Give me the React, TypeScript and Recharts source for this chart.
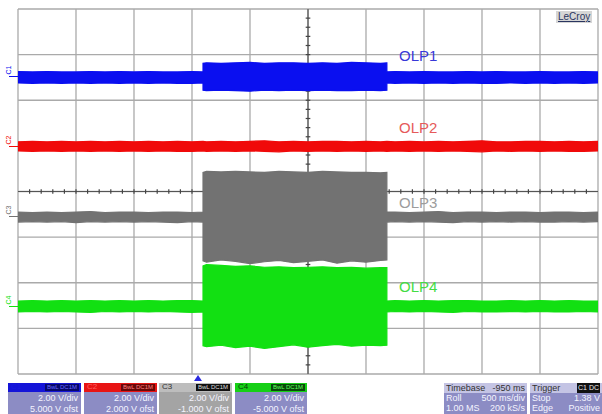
import * as React from 'react';
import { ComposedChart, Area, XAxis, YAxis, CartesianGrid, ReferenceLine } from 'recharts';

// time in divisions (500 ms/div), voltages in screen divisions
const T = [
  0, 0.25, 0.5, 0.75, 1, 1.25, 1.5, 1.75, 2, 2.25, 2.5, 2.75, 3, 3.19,
  3.19, 3.25, 3.5, 3.75, 4, 4.25, 4.5, 4.75, 5, 5.25, 5.5, 5.75, 6, 6.25, 6.36,
  6.36, 6.5, 6.75, 7, 7.25, 7.5, 7.75, 8, 8.25, 8.5, 8.75, 9, 9.25, 9.5, 9.75, 10,
];

const C1_HI = [
  2.63, 2.62, 2.63, 2.62, 2.62, 2.63, 2.62, 2.63, 2.62, 2.63, 2.62, 2.62, 2.63, 2.62,
  2.81, 2.82, 2.81, 2.82, 2.83, 2.81, 2.82, 2.82, 2.81, 2.82, 2.81, 2.83, 2.82, 2.81, 2.82,
  2.62, 2.63, 2.62, 2.63, 2.62, 2.62, 2.63, 2.62, 2.63, 2.62, 2.62, 2.63, 2.62, 2.62, 2.63, 2.62,
];
const C1_LO = [
  2.38, 2.37, 2.38, 2.37, 2.38, 2.37, 2.38, 2.37, 2.38, 2.37, 2.38, 2.37, 2.37, 2.38,
  2.22, 2.21, 2.22, 2.21, 2.2, 2.22, 2.21, 2.22, 2.21, 2.22, 2.21, 2.21, 2.22, 2.21, 2.22,
  2.38, 2.37, 2.38, 2.37, 2.38, 2.37, 2.38, 2.37, 2.37, 2.38, 2.37, 2.38, 2.37, 2.38, 2.37, 2.38,
];
const C2_HI = [
  1.09, 1.1, 1.09, 1.1, 1.09, 1.1, 1.09, 1.1, 1.09, 1.1, 1.09, 1.1, 1.09, 1.1,
  1.1, 1.09, 1.1, 1.09, 1.1, 1.11, 1.09, 1.1, 1.09, 1.1, 1.1, 1.09, 1.1, 1.09, 1.1,
  1.1, 1.09, 1.1, 1.09, 1.1, 1.09, 1.1, 1.11, 1.09, 1.09, 1.1, 1.1, 1.09, 1.1, 1.09, 1.1,
];
const C2_LO = [
  0.89, 0.88, 0.89, 0.88, 0.89, 0.88, 0.89, 0.88, 0.89, 0.88, 0.89, 0.88, 0.88, 0.89,
  0.89, 0.88, 0.89, 0.88, 0.89, 0.88, 0.87, 0.89, 0.88, 0.89, 0.88, 0.89, 0.88, 0.89, 0.88,
  0.88, 0.89, 0.88, 0.89, 0.88, 0.89, 0.88, 0.87, 0.89, 0.88, 0.89, 0.88, 0.89, 0.88, 0.88, 0.89,
];
const C3_HI = [
  -0.45, -0.46, -0.45, -0.46, -0.45, -0.44, -0.46, -0.45, -0.45, -0.46, -0.45, -0.45, -0.46, -0.45,
  0.42, 0.44, 0.43, 0.44, 0.43, 0.42, 0.44, 0.43, 0.42, 0.44, 0.43, 0.42, 0.42, 0.41, 0.42,
  -0.45, -0.45, -0.46, -0.45, -0.44, -0.46, -0.45, -0.45, -0.46, -0.45, -0.45, -0.46, -0.45, -0.45, -0.46, -0.45,
];
const C3_LO = [
  -0.67, -0.66, -0.67, -0.66, -0.68, -0.66, -0.67, -0.66, -0.67, -0.66, -0.67, -0.68, -0.66, -0.67,
  -1.52, -1.55, -1.5, -1.53, -1.58, -1.54, -1.51, -1.56, -1.53, -1.5, -1.57, -1.52, -1.55, -1.51, -1.5,
  -0.67, -0.66, -0.67, -0.66, -0.67, -0.68, -0.66, -0.67, -0.66, -0.67, -0.66, -0.67, -0.67, -0.66, -0.67, -0.66,
];
const C4_HI = [
  -2.4, -2.39, -2.4, -2.39, -2.4, -2.39, -2.4, -2.39, -2.4, -2.39, -2.4, -2.39, -2.39, -2.4,
  -1.63, -1.6, -1.62, -1.64, -1.63, -1.66, -1.65, -1.67, -1.66, -1.65, -1.67, -1.66, -1.68, -1.67, -1.67,
  -2.4, -2.39, -2.4, -2.39, -2.4, -2.39, -2.39, -2.4, -2.4, -2.39, -2.4, -2.39, -2.4, -2.39, -2.4, -2.4,
];
const C4_LO = [
  -2.64, -2.63, -2.64, -2.63, -2.64, -2.65, -2.63, -2.64, -2.63, -2.64, -2.63, -2.64, -2.65, -2.64,
  -3.38, -3.4, -3.37, -3.42, -3.39, -3.44, -3.4, -3.36, -3.41, -3.38, -3.35, -3.39, -3.37, -3.38, -3.37,
  -2.64, -2.63, -2.64, -2.63, -2.64, -2.65, -2.63, -2.64, -2.64, -2.63, -2.64, -2.63, -2.64, -2.64, -2.63, -2.64,
];

const X_TICKS = [0, 1, 2, 3, 4, 5, 6, 7, 8, 9, 10];
const Y_TICKS = [-4, -3, -2, -1, 0, 1, 2, 3, 4];
const X_MINOR = Array.from({ length: 49 }, (_, i) => (i + 1) * 0.2);
const Y_MINOR = Array.from({ length: 39 }, (_, i) => -3.8 + i * 0.2);

const CHANNELS = [
  { key: 'c1', name: 'C1', label: 'OLP1', color: '#0a0ff0', text: '#3838d8', labelTop: 47, markTop: 66 },
  { key: 'c2', name: 'C2', label: 'OLP2', color: '#f00a0a', text: '#e65a5a', labelTop: 119, markTop: 136 },
  { key: 'c3', name: 'C3', label: 'OLP3', color: '#727272', text: '#9c9c9c', labelTop: 194, markTop: 206 },
  { key: 'c4', name: 'C4', label: 'OLP4', color: '#12e012', text: '#44dc44', labelTop: 278, markTop: 296 },
];

const BOXES = [
  { name: 'C1', left: 8, width: 73, head: '#1414d8', tag: '#08086a', tagText: '#6a6aff', nameColor: '#1a1ae0', body: '#8c8cc4', rows: ['2.00 V/div', '5.000 V ofst'] },
  { name: 'C2', left: 84, width: 73, head: '#e81414', tag: '#6a0808', tagText: '#ff8080', nameColor: '#ff6060', body: '#8c8cc4', rows: ['2.00 V/div', '2.000 V ofst'] },
  { name: 'C3', left: 159, width: 73, head: '#bdbdbd', tag: '#111111', tagText: '#dddddd', nameColor: '#333333', body: '#a4a4a4', rows: ['2.00 V/div', '-1.000 V ofst'] },
  { name: 'C4', left: 235, width: 72, head: '#16d016', tag: '#0a4a0a', tagText: '#60ff60', nameColor: '#0a3a0a', body: '#8c8cc4', rows: ['2.00 V/div', '-5.000 V ofst'] },
];

const FONT = '"Liberation Sans", Arial, sans-serif';

export default function App() {
  const rows = T.map((t, i) => ({
    t,
    c1: [C1_LO[i], C1_HI[i]],
    c2: [C2_LO[i], C2_HI[i]],
    c3: [C3_LO[i], C3_HI[i]],
    c4: [C4_LO[i], C4_HI[i]],
  }));

  return (
    <div style={{ position: 'absolute', left: 0, top: 0, width: 602, height: 414, background: '#fff', overflow: 'hidden', fontFamily: FONT }}>
      <ComposedChart width={602} height={414} data={rows} margin={{ top: 9, right: 4, bottom: 40, left: 18 }}>
        <XAxis type="number" dataKey="t" domain={[0, 10]} ticks={X_TICKS} hide />
        <YAxis type="number" domain={[-4, 4]} ticks={Y_TICKS} hide />
        <CartesianGrid stroke="#aaaaaa" strokeWidth={1.3} />
        <ReferenceLine y={0} stroke="#555" strokeWidth={1.2} zIndex={-10} />
        <ReferenceLine x={5} stroke="#555" strokeWidth={1.2} zIndex={-10} />
        {X_MINOR.map((x) => (
          <ReferenceLine key={'xm' + x} segment={[{ x, y: -0.05 }, { x, y: 0.05 }]} stroke="#444" strokeWidth={1.2} zIndex={-10} />
        ))}
        {Y_MINOR.map((y) => (
          <ReferenceLine key={'ym' + y} segment={[{ x: 4.96, y }, { x: 5.04, y }]} stroke="#444" strokeWidth={1.2} zIndex={-10} />
        ))}
        {CHANNELS.map((c) => (
          <Area
            key={c.key}
            type="linear"
            dataKey={c.key}
            stroke={c.color}
            strokeWidth={1.2}
            fill={c.color}
            fillOpacity={1}
            dot={false}
            activeDot={false}
            isAnimationActive={false}
            zIndex={500}
          />
        ))}
      </ComposedChart>

      {CHANNELS.map((c) => (
        <div key={c.label} style={{ position: 'absolute', left: 399, top: c.labelTop, fontSize: 15, color: c.text, lineHeight: '17px' }}>
          {c.label}
        </div>
      ))}

      {CHANNELS.map((c) => (
        <div key={c.name} style={{ position: 'absolute', left: 3, top: c.markTop, width: 16, height: 12 }}>
          <div style={{ position: 'absolute', left: 2, top: 0, fontSize: 7, color: c.color, transform: 'rotate(-90deg)', transformOrigin: 'center', lineHeight: '8px' }}>
            {c.name}
          </div>
          <div style={{ position: 'absolute', left: 6, top: 10, width: 9, height: 1, background: c.color }} />
        </div>
      ))}

      <div style={{ position: 'absolute', left: 556, top: 11, padding: '0 2px', fontSize: 10, lineHeight: '12px', color: '#2a3560', background: '#d6d6d6', textDecoration: 'underline' }}>
        LeCroy
      </div>

      <div style={{ position: 'absolute', left: 194, top: 375, width: 0, height: 0, borderLeft: '4px solid transparent', borderRight: '4px solid transparent', borderBottom: '6px solid #2a2ae0' }} />

      {BOXES.map((b) => (
        <div key={b.name} style={{ position: 'absolute', left: b.left, top: 383, width: b.width, height: 31, background: b.body, fontSize: 9, lineHeight: '10px' }}>
          <div style={{ height: 9, background: b.head, position: 'relative' }}>
            <span style={{ position: 'absolute', left: 3, top: -1, color: b.nameColor, fontSize: 8 }}>{b.name}</span>
            <span style={{ position: 'absolute', right: 2, top: 1, height: 7, padding: '0 2px', background: b.tag, color: b.tagText, fontSize: 6, lineHeight: '7px' }}>BwL DC1M</span>
          </div>
          {b.rows.map((r) => (
            <div key={r} style={{ textAlign: 'right', paddingRight: 3, color: '#f4f4ff', marginTop: 1 }}>{r}</div>
          ))}
        </div>
      ))}

      <div style={{ position: 'absolute', left: 444, top: 383, width: 83, height: 31, background: '#8c8cc4', fontSize: 9, lineHeight: '10px' }}>
        <div style={{ height: 10, background: '#c4c4e4', color: '#333', display: 'flex', justifyContent: 'space-between', padding: '0 2px' }}>
          <span>Timebase</span><span>-950 ms</span>
        </div>
        <div style={{ display: 'flex', justifyContent: 'space-between', padding: '0 2px', color: '#f4f4ff' }}><span>Roll</span><span>500 ms/div</span></div>
        <div style={{ display: 'flex', justifyContent: 'space-between', padding: '0 2px', color: '#f4f4ff' }}><span>1.00 MS</span><span>200 kS/s</span></div>
      </div>

      <div style={{ position: 'absolute', left: 530, top: 383, width: 72, height: 31, background: '#8c8cc4', fontSize: 9, lineHeight: '10px' }}>
        <div style={{ height: 10, background: '#c4c4e4', color: '#333', display: 'flex', justifyContent: 'space-between', padding: '0 2px' }}>
          <span>Trigger</span><span style={{ background: '#111', color: '#eee', fontSize: 7, padding: '0 1px' }}>C1 DC</span>
        </div>
        <div style={{ display: 'flex', justifyContent: 'space-between', padding: '0 2px', color: '#f4f4ff' }}><span>Stop</span><span>1.38 V</span></div>
        <div style={{ display: 'flex', justifyContent: 'space-between', padding: '0 2px', color: '#f4f4ff' }}><span>Edge</span><span>Positive</span></div>
      </div>
    </div>
  );
}
